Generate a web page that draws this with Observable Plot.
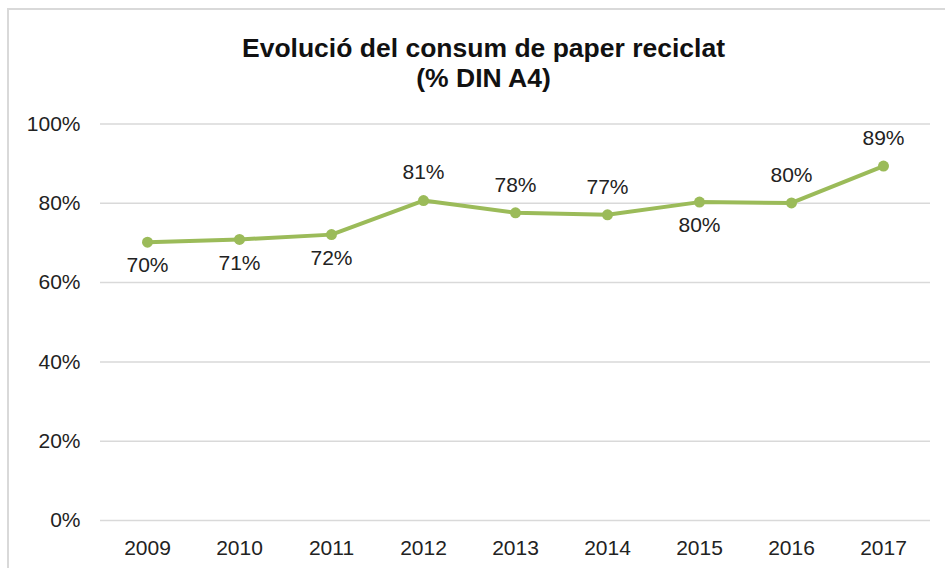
<!DOCTYPE html>
<html>
<head>
<meta charset="utf-8">
<script src="https://cdn.jsdelivr.net/npm/d3@7"></script>
<script src="https://cdn.jsdelivr.net/npm/@observablehq/plot@0.6"></script>
<style>
  html, body { margin: 0; padding: 0; background: #fff; overflow: hidden; }
  #frame { position: absolute; left: 7px; top: 8px; width: 1200px; height: 800px; border: 2px solid #d9d9d9; box-sizing: border-box; }
  #title { position: absolute; left: 0; top: 33px; width: 967px; text-align: center;
           font-family: "Liberation Sans", Arial, sans-serif; font-weight: bold; font-size: 26.5px; line-height: 30px; color: #111; }
  #chart { position: absolute; left: 0; top: 100px; }
</style>
</head>
<body>
<div id="frame"></div>
<div id="title">Evolució del consum de paper reciclat<br>(% DIN A4)</div>
<div id="chart"></div>
<script>
const years = ["2009","2010","2011","2012","2013","2014","2015","2016","2017"];
const values = [70.2, 70.9, 72.1, 80.7, 77.6, 77.1, 80.3, 80.1, 89.4];
const labelSide = ["below","below","below","above","above","above","below","above","above"];
const yTicks = [0, 20, 40, 60, 80, 100];

const data = years.map((y, i) => ({year: y, value: values[i], side: labelSide[i], label: Math.round(values[i]) + "%"}));
const green = "#9bbb59";

const chart = Plot.plot({
  width: 945,
  height: 468,
  marginTop: 23.5,
  marginBottom: 48,
  marginLeft: 100,
  marginRight: 15,
  style: {fontFamily: "'Liberation Sans', Arial, sans-serif", fontSize: "21px", color: "#222", background: "transparent", overflow: "visible"},
  x: {type: "point", domain: years, padding: 0.5, label: null},
  y: {domain: [0, 100], label: null},
  marks: [
    Plot.gridY(yTicks, {stroke: "#d9d9d9", strokeOpacity: 1, strokeWidth: 1.5}),
    Plot.axisY(yTicks, {tickSize: 0, tickPadding: 20, tickFormat: d => d + "%", label: null, fontSize: 21}),
    Plot.axisX({tickSize: 0, tickPadding: 20, label: null, fontSize: 21}),
    Plot.line(data, {x: "year", y: "value", stroke: green, strokeWidth: 4}),
    Plot.dot(data, {x: "year", y: "value", r: 5.5, fill: green, stroke: "none"}),
    Plot.text(data.filter(d => d.side === "above"), {x: "year", y: "value", text: "label", dy: -28, fontSize: 21, fill: "#222"}),
    Plot.text(data.filter(d => d.side === "below"), {x: "year", y: "value", text: "label", dy: 23.5, fontSize: 21, fill: "#222"})
  ]
});
document.getElementById("chart").appendChild(chart);
</script>
</body>
</html>
